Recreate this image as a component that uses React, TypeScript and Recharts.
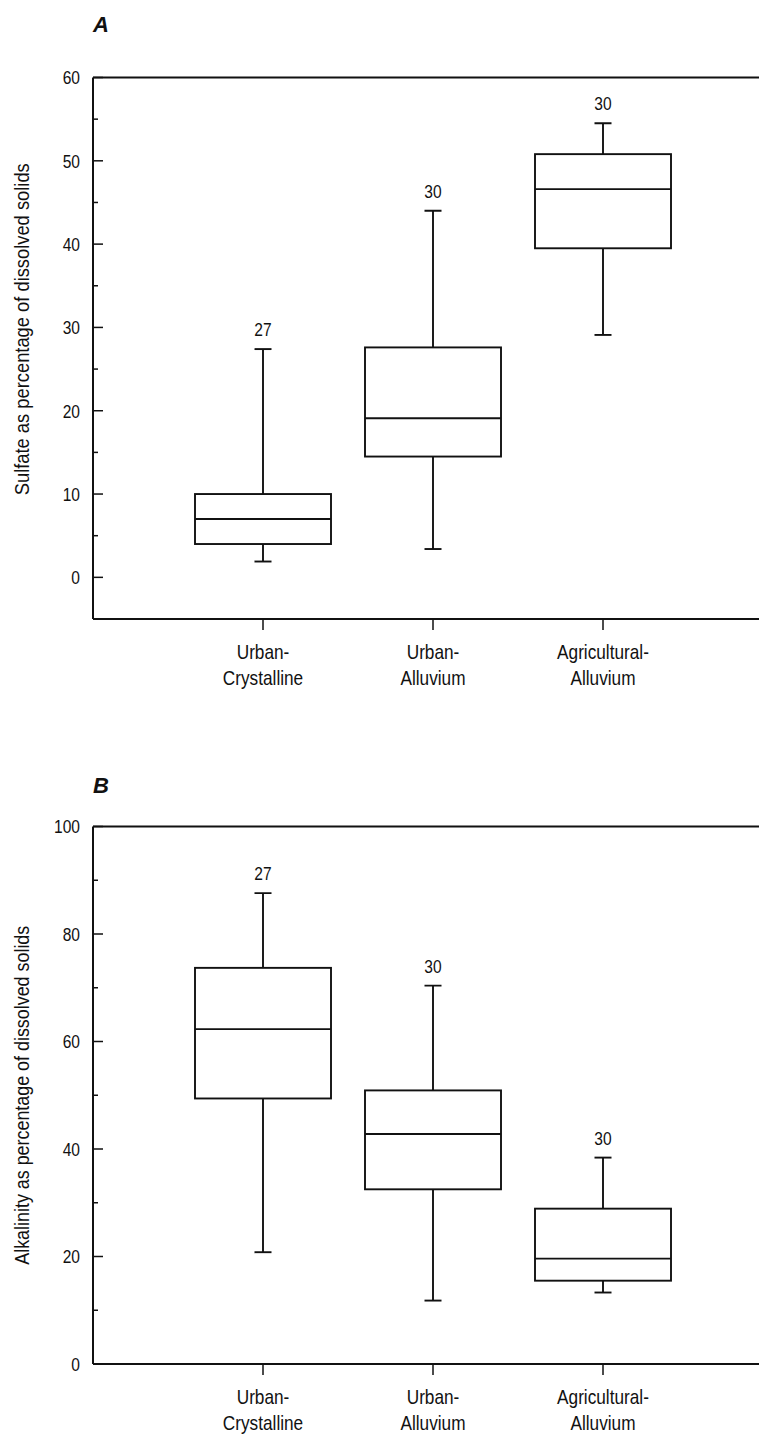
import React from 'react';
import { ComposedChart, Bar, XAxis, YAxis, ReferenceLine } from 'recharts';

const categories = ['Urban-Crystalline', 'Urban-Alluvium', 'Agricultural-Alluvium'];
const sampleCounts = [27, 30, 30];

// Panel A: sulfate as percentage of dissolved solids
const sulfateMin = [1.9, 3.4, 29.1];
const sulfateQ1 = [4.0, 14.5, 39.5];
const sulfateMedian = [7.0, 19.1, 46.6];
const sulfateQ3 = [10.0, 27.6, 50.8];
const sulfateMax = [27.4, 44.0, 54.5];
const sulfateTicks = [0, 5, 10, 15, 20, 25, 30, 35, 40, 45, 50, 55, 60];

// Panel B: alkalinity as percentage of dissolved solids
const alkalinityMin = [20.8, 11.8, 13.3];
const alkalinityQ1 = [49.4, 32.5, 15.5];
const alkalinityMedian = [62.3, 42.8, 19.6];
const alkalinityQ3 = [73.7, 50.9, 28.9];
const alkalinityMax = [87.6, 70.4, 38.4];
const alkalinityTicks = [0, 10, 20, 30, 40, 50, 60, 70, 80, 90, 100];

const FONT = '"Liberation Sans", Arial, Helvetica, sans-serif';
const SX = 0.82; // horizontal squeeze to mimic a condensed face
const BLACK = '#111';

type Row = { name: string; range: [number, number]; min: number; q1: number; median: number; q3: number; max: number; n: number };

function buildRows(min: number[], q1: number[], med: number[], q3: number[], max: number[]): Row[] {
  return categories.map((name, i) => ({
    name,
    range: [min[i], max[i]],
    min: min[i],
    q1: q1[i],
    median: med[i],
    q3: q3[i],
    max: max[i],
    n: sampleCounts[i],
  }));
}

const sulfateRows = buildRows(sulfateMin, sulfateQ1, sulfateMedian, sulfateQ3, sulfateMax);
const alkalinityRows = buildRows(alkalinityMin, alkalinityQ1, alkalinityMedian, alkalinityQ3, alkalinityMax);

const CText = ({ x, y, anchor, size, dy, children }: any) => (
  <g transform={`translate(${x},${y}) scale(${SX},1)`}>
    <text x={0} y={0} dy={dy} textAnchor={anchor} fontFamily={FONT} fontSize={size} fill={BLACK}>
      {children}
    </text>
  </g>
);

const BoxShape = (props: any) => {
  const { x, y, width, height, payload } = props;
  if (!payload) return null;
  const top = Math.min(y, y + height);
  const h = Math.abs(height);
  const { min, max, q1, q3, median, n } = payload;
  const pix = (v: number) => top + (h * (max - v)) / (max - min);
  const cx = x + width / 2;
  const cap = 8.5;
  const sw = 1.9;
  return (
    <g>
      <line x1={cx} x2={cx} y1={pix(max)} y2={pix(q3)} stroke={BLACK} strokeWidth={sw} />
      <line x1={cx} x2={cx} y1={pix(q1)} y2={pix(min)} stroke={BLACK} strokeWidth={sw} />
      <line x1={cx - cap} x2={cx + cap} y1={pix(max)} y2={pix(max)} stroke={BLACK} strokeWidth={sw} />
      <line x1={cx - cap} x2={cx + cap} y1={pix(min)} y2={pix(min)} stroke={BLACK} strokeWidth={sw} />
      <rect x={x} y={pix(q3)} width={width} height={pix(q1) - pix(q3)} fill="#fff" stroke={BLACK} strokeWidth={sw} />
      <line x1={x} x2={x + width} y1={pix(median)} y2={pix(median)} stroke={BLACK} strokeWidth={sw} />
      <CText x={cx} y={pix(max) - 13} anchor="middle" size={19}>
        {n}
      </CText>
    </g>
  );
};

const makeLeftTick = (step: number) => (props: any) => {
  const { x, y, payload } = props;
  const v = payload.value;
  const major = v % step === 0;
  const ax = x + 13;
  return (
    <g>
      <line x1={ax} x2={ax + (major ? 10 : 5)} y1={y} y2={y} stroke={BLACK} strokeWidth={1.5} />
      {major && (
        <CText x={x} y={y} dy="0.36em" anchor="end" size={19}>
          {v}
        </CText>
      )}
    </g>
  );
};

const makeRightTick = (step: number) => (props: any) => {
  const { x, y, payload } = props;
  const v = payload.value;
  const major = v % step === 0;
  return <line x1={x - (major ? 10 : 5)} x2={x} y1={y} y2={y} stroke={BLACK} strokeWidth={1.5} />;
};

const XTick = (props: any) => {
  const { x, y, payload } = props;
  const label: string = payload.value;
  const idx = label.indexOf('-');
  const first = label.slice(0, idx + 1);
  const second = label.slice(idx + 1);
  return (
    <g>
      <CText x={x} y={y + 29} anchor="middle" size={21}>
        {first}
      </CText>
      <CText x={x} y={y + 55} anchor="middle" size={21}>
        {second}
      </CText>
    </g>
  );
};

const makeYLabel = (text: string, shift: number, length: number) => (props: any) => {
  const vb = props.viewBox || {};
  const cy = (vb.y || 0) + (vb.height || 0) / 2 + shift;
  const cx = 14;
  return (
    <text
      x={cx}
      y={cy}
      dy="0.36em"
      textAnchor="middle"
      transform={`rotate(-90, ${cx}, ${cy})`}
      fontFamily={FONT}
      fontSize={20}
      fill={BLACK}
      textLength={length}
      lengthAdjust="spacingAndGlyphs"
    >
      {text}
    </text>
  );
};

type PanelProps = {
  rows: Row[];
  domain: [number, number];
  ticks: number[];
  majorStep: number;
  height: number;
  marginTop: number;
  yLabel: string;
  labelShift: number;
  labelLength: number;
};

const Panel = ({ rows, domain, ticks, majorStep, height, marginTop, yLabel, labelShift, labelLength }: PanelProps) => (
  <ComposedChart
    width={800}
    height={height}
    data={rows}
    margin={{ top: marginTop, right: 34, bottom: 0, left: 0 }}
  >
    <XAxis
      dataKey="name"
      type="category"
      padding={{ left: 85, right: 85 }}
      axisLine={{ stroke: BLACK, strokeWidth: 2 }}
      tickLine={{ stroke: BLACK, strokeWidth: 1.5 }}
      tickSize={11}
      tickMargin={0}
      height={70}
      interval={0}
      tick={XTick}
    />
    <YAxis
      yAxisId="left"
      type="number"
      domain={domain}
      ticks={ticks}
      interval={0}
      width={85}
      tickSize={0}
      tickMargin={13}
      tickLine={false}
      axisLine={{ stroke: BLACK, strokeWidth: 2 }}
      tick={makeLeftTick(majorStep)}
      allowDataOverflow
      label={makeYLabel(yLabel, labelShift, labelLength)}
    />
    <YAxis
      yAxisId="right"
      orientation="right"
      type="number"
      domain={domain}
      ticks={ticks}
      interval={0}
      width={1}
      tickSize={0}
      tickMargin={0}
      tickLine={false}
      axisLine={{ stroke: BLACK, strokeWidth: 2 }}
      tick={makeRightTick(majorStep)}
      allowDataOverflow
    />
    <ReferenceLine yAxisId="left" y={domain[1]} stroke={BLACK} strokeWidth={2} ifOverflow="visible" />
    <Bar yAxisId="left" dataKey="range" barSize={136} shape={BoxShape} isAnimationActive={false} />
  </ComposedChart>
);

const letterStyle: React.CSSProperties = {
  position: 'absolute',
  left: 85,
  fontFamily: FONT,
  fontWeight: 'bold',
  fontStyle: 'italic',
  fontSize: 22,
  lineHeight: '22px',
  color: BLACK,
};

export default function App() {
  return (
    <div style={{ position: 'relative', width: 759, height: 1430, overflow: 'hidden', background: '#fff' }}>
      <div style={{ ...letterStyle, top: 6 }}>A</div>
      <div style={{ position: 'absolute', left: 0, top: 0 }}>
        <Panel
          rows={sulfateRows}
          domain={[-5, 60]}
          ticks={sulfateTicks}
          majorStep={10}
          height={681}
          marginTop={69.5}
          yLabel="Sulfate as percentage of  dissolved solids"
          labelShift={-19}
          labelLength={332}
        />
      </div>
      <div style={{ ...letterStyle, top: 767 }}>B</div>
      <div style={{ position: 'absolute', left: 0, top: 700 }}>
        <Panel
          rows={alkalinityRows}
          domain={[0, 100]}
          ticks={alkalinityTicks}
          majorStep={20}
          height={726}
          marginTop={118.5}
          yLabel="Alkalinity as percentage of dissolved solids"
          labelShift={0}
          labelLength={339}
        />
      </div>
    </div>
  );
}
